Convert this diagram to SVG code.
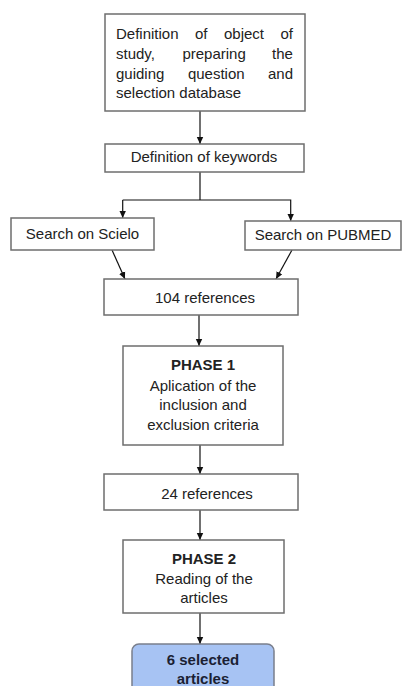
<svg xmlns="http://www.w3.org/2000/svg" width="403" height="686" viewBox="0 0 403 686">
<defs>
<style>
.box{fill:#fff;stroke:#6e6e6e;stroke-width:1.5}
.t{font-family:"Liberation Sans",Arial,sans-serif;font-size:15px;fill:#222}
.c{text-anchor:middle}
.e{text-anchor:end}
.b{font-weight:bold}
.ln{stroke:#111;stroke-width:1.2;fill:none}
</style>
<marker id="ah" markerWidth="8" markerHeight="8" refX="7" refY="4" orient="auto" markerUnits="userSpaceOnUse">
<path d="M0,0.8 L7,4 L0,7.2 Z" fill="#111"/>
</marker>
</defs>
<rect width="403" height="686" fill="#fff"/>
<g id="connectors">
<line class="ln" x1="200" y1="111" x2="200" y2="144" marker-end="url(#ah)"/>
<polyline class="ln" points="200,172 200,200"/>
<polyline class="ln" points="122.7,200 290.7,200 290.7,221" marker-end="url(#ah)"/>
<line class="ln" x1="122.7" y1="200" x2="122.7" y2="218" marker-end="url(#ah)"/>
<line class="ln" x1="112" y1="250" x2="125" y2="279" marker-end="url(#ah)"/>
<line class="ln" x1="292" y1="250" x2="276" y2="279" marker-end="url(#ah)"/>
<line class="ln" x1="199" y1="315" x2="199" y2="346" marker-end="url(#ah)"/>
<line class="ln" x1="200" y1="445" x2="200" y2="474" marker-end="url(#ah)"/>
<line class="ln" x1="200" y1="510" x2="200" y2="540" marker-end="url(#ah)"/>
<line class="ln" x1="200" y1="613" x2="200" y2="644" marker-end="url(#ah)"/>
</g>
<g id="n1">
<rect class="box" x="105" y="14" width="200" height="97"/>
<text class="t" y="38.5"><tspan x="116">Definition</tspan><tspan x="195">of</tspan><tspan x="224">object</tspan><tspan x="280.5">of</tspan></text>
<text class="t" y="59"><tspan x="116">study,</tspan><tspan x="182.4">preparing</tspan><tspan x="272.1">the</tspan></text>
<text class="t" y="78.5"><tspan x="116">guiding</tspan><tspan x="187.9">question</tspan><tspan x="268">and</tspan></text>
<text class="t" x="116" y="98">selection database</text>
</g>
<g id="n2">
<rect class="box" x="105" y="144" width="199" height="28"/>
<text class="t c" x="204" y="162">Definition of keywords</text>
</g>
<g id="n3">
<rect class="box" x="11" y="218" width="143" height="32"/>
<text class="t c" x="82.5" y="238.5">Search on Scielo</text>
</g>
<g id="n4">
<rect class="box" x="245" y="221" width="156" height="29"/>
<text class="t c" x="323" y="239.5">Search on PUBMED</text>
</g>
<g id="n5">
<rect class="box" x="104" y="279" width="194" height="36"/>
<text class="t c" x="205" y="303">104 references</text>
</g>
<g id="n6">
<rect class="box" x="123" y="346" width="160" height="99"/>
<text class="t c b" x="203" y="370">PHASE 1</text>
<text class="t c" x="203" y="391">Aplication of the</text>
<text class="t c" x="203" y="410">inclusion  and</text>
<text class="t c" x="203" y="429.5">exclusion criteria</text>
</g>
<g id="n7">
<rect class="box" x="104" y="474" width="194" height="36"/>
<text class="t c" x="207" y="499">24 references</text>
</g>
<g id="n8">
<rect class="box" x="123" y="540" width="161" height="73"/>
<text class="t c b" x="204" y="564">PHASE 2</text>
<text class="t c" x="204" y="583.5">Reading of the</text>
<text class="t c" x="204" y="603">articles</text>
</g>
<g id="n9">
<rect x="132" y="644" width="142" height="60" rx="7" fill="#a7c3f3" stroke="#7a7f8c" stroke-width="1.5"/>
<text class="t c b" x="203" y="665" style="fill:#1b1f33">6 selected</text>
<text class="t c b" x="203" y="683.5" style="fill:#1b1f33">articles</text>
</g>
</svg>
